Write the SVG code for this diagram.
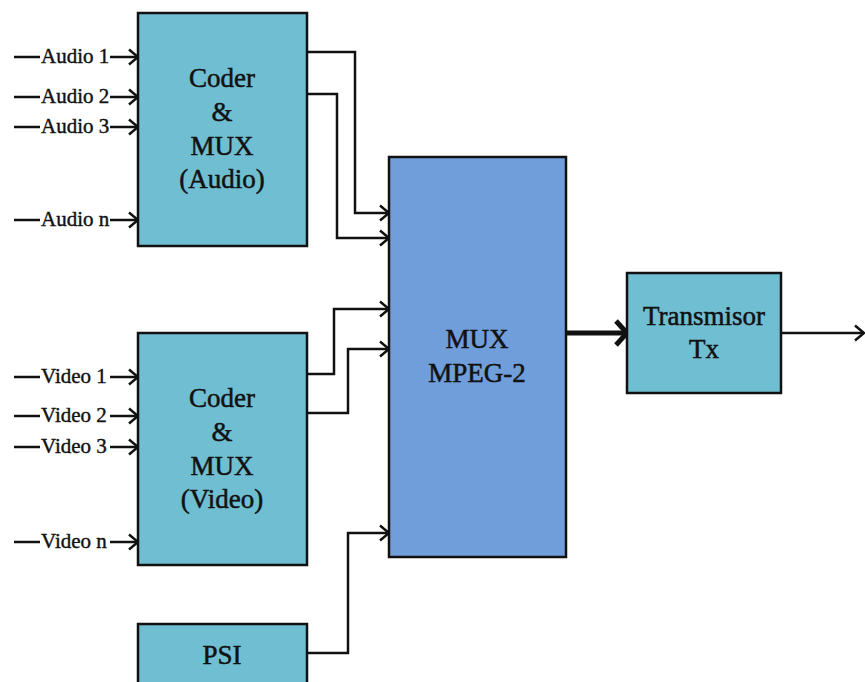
<svg xmlns="http://www.w3.org/2000/svg" width="865" height="682" viewBox="0 0 865 682">
<style>
.box{fill:#70BED2;stroke:#111;stroke-width:2.5}
.mux{fill:#709EDA;stroke:#111;stroke-width:2.5}
.t{font-family:"Liberation Serif",serif;font-size:27px;fill:#111;stroke:#111;stroke-width:0.5;text-anchor:middle}
.l{font-family:"Liberation Serif",serif;font-size:21px;fill:#111;stroke:#111;stroke-width:0.4}
.c{fill:none;stroke:#111;stroke-width:2.5}
.k{fill:none;stroke:#111;stroke-width:5}
</style>
<defs>
<marker id="a" markerUnits="userSpaceOnUse" viewBox="0 0 12 18" refX="11" refY="9" markerWidth="12" markerHeight="18" orient="auto">
<path d="M2,1.5 L11,9 L2,16.5" fill="none" stroke="#111" stroke-width="2.5"/>
</marker>
<marker id="b" markerUnits="userSpaceOnUse" viewBox="0 0 16 28" refX="14" refY="14" markerWidth="16" markerHeight="28" orient="auto">
<path d="M3,2 L14,14 L3,26" fill="none" stroke="#111" stroke-width="5"/>
</marker>
</defs>
<g id="connectors">
<path class="c" d="M14,57 H40 M110,57 H138" marker-end="url(#a)"/>
<path class="c" d="M14,97 H40 M110,97 H138" marker-end="url(#a)"/>
<path class="c" d="M14,127 H40 M110,127 H138" marker-end="url(#a)"/>
<path class="c" d="M14,220 H40 M110,220 H138" marker-end="url(#a)"/>
<path class="c" d="M14,377 H40 M110,377 H138" marker-end="url(#a)"/>
<path class="c" d="M14,416 H40 M110,416 H138" marker-end="url(#a)"/>
<path class="c" d="M14,447 H40 M110,447 H138" marker-end="url(#a)"/>
<path class="c" d="M14,542 H40 M110,542 H138" marker-end="url(#a)"/>
<path class="c" d="M307,52 H355 V213 H389" marker-end="url(#a)"/>
<path class="c" d="M307,94 H337 V238 H389" marker-end="url(#a)"/>
<path class="c" d="M307,374 H334 V309 H389" marker-end="url(#a)"/>
<path class="c" d="M307,413 H348 V349 H389" marker-end="url(#a)"/>
<path class="c" d="M307,653 H348 V533 H389" marker-end="url(#a)"/>
<path class="k" d="M566,333 H627" marker-end="url(#b)"/>
<path class="c" d="M781,333 H864" marker-end="url(#a)"/>
</g>
<g id="audio-labels">
<text class="l" x="41" y="63">Audio 1</text>
<text class="l" x="41" y="103">Audio 2</text>
<text class="l" x="41" y="133">Audio 3</text>
<text class="l" x="41" y="226">Audio n</text>
</g>
<g id="video-labels">
<text class="l" x="41" y="383">Video 1</text>
<text class="l" x="41" y="422">Video 2</text>
<text class="l" x="41" y="453">Video 3</text>
<text class="l" x="41" y="548">Video n</text>
</g>
<g id="coder-audio">
<rect class="box" x="138" y="13" width="169" height="233"/>
<text class="t" x="222" y="87">Coder</text>
<text class="t" x="222" y="121">&amp;</text>
<text class="t" x="222" y="155">MUX</text>
<text class="t" x="222" y="188">(Audio)</text>
</g>
<g id="coder-video">
<rect class="box" x="138" y="333" width="169" height="232"/>
<text class="t" x="222" y="407">Coder</text>
<text class="t" x="222" y="441">&amp;</text>
<text class="t" x="222" y="475">MUX</text>
<text class="t" x="222" y="508">(Video)</text>
</g>
<g id="psi">
<rect class="box" x="138" y="624" width="169" height="70"/>
<text class="t" x="222" y="664">PSI</text>
</g>
<g id="mux-mpeg2">
<rect class="mux" x="389" y="157" width="177" height="400"/>
<text class="t" x="477" y="348">MUX</text>
<text class="t" x="477" y="382">MPEG-2</text>
</g>
<g id="transmisor">
<rect class="box" x="627" y="273" width="154" height="120"/>
<text class="t" x="704" y="325">Transmisor</text>
<text class="t" x="704" y="358">Tx</text>
</g>
</svg>
